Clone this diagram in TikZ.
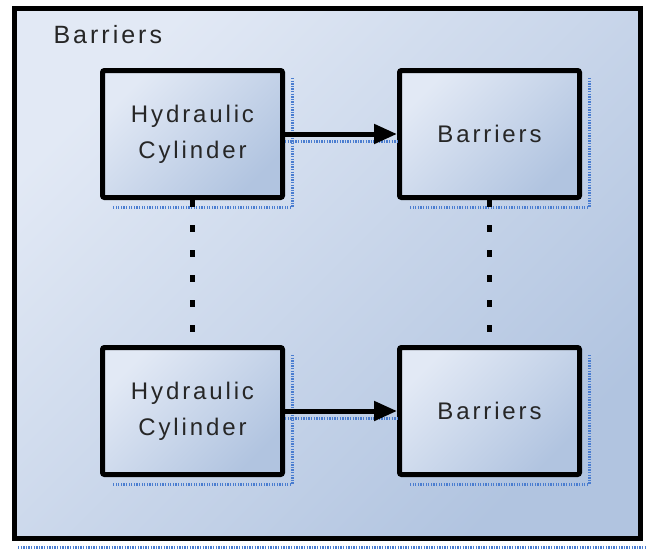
\documentclass[tikz,border=0pt]{standalone}
\usepackage{fontspec}
\setmainfont{Liberation Sans}[LetterSpace=12]
\usetikzlibrary{arrows.meta,positioning}
\definecolor{paleblue}{RGB}{226,233,245}
\definecolor{deepblue}{RGB}{177,196,224}
\definecolor{shadowblue}{RGB}{74,125,208}

\begin{document}
\begin{tikzpicture}[
    x=1pt, y=1pt,
    node distance=145pt and 112pt,
    frame/.style={draw, line width=5pt, minimum width=626pt, minimum height=530pt, left color=paleblue, right color=deepblue, shading angle=45},
    block/.style={draw, line width=5pt, rounded corners=2pt, minimum width=180pt, minimum height=127pt, align=center, font=\fontsize{24}{36}\selectfont, text=black!85, left color=paleblue, right color=deepblue, shading angle=45},
    line/.style={-{Triangle[length=23pt,width=19pt]}, line width=5pt},
    dots/.style={line width=5.5pt, dash pattern=on 7pt off 18pt},
    shade/.style={shadowblue, line width=3pt, dash pattern=on 1.3pt off 1.3pt}
]
\useasboundingbox (0,0) rectangle (647,-550);
\node[frame] (frame) at (327.5,-273.5) {};
\node[anchor=base west, font=\fontsize{25}{30}\selectfont, text=black!85] (title) at (50,-43) {Barriers};

\node[block] (cyl1) at (192.5,-134) {Hydraulic \\ Cylinder};
\node[block, right=of cyl1] (bar1) {Barriers};
\node[block, below=of cyl1] (cyl2) {Hydraulic \\ Cylinder};
\node[block, below=of bar1] (bar2) {Barriers};

% shadows
\draw[shade] ([xshift=7pt,yshift=-10pt]cyl1.north east) |- ([xshift=12pt,yshift=-7pt]cyl1.south west);
\draw[shade] ([xshift=7pt,yshift=-10pt]bar1.north east) |- ([xshift=12pt,yshift=-7pt]bar1.south west);
\draw[shade] ([xshift=7pt,yshift=-10pt]cyl2.north east) |- ([xshift=12pt,yshift=-7pt]cyl2.south west);
\draw[shade] ([xshift=7pt,yshift=-10pt]bar2.north east) |- ([xshift=12pt,yshift=-7pt]bar2.south west);
\draw[shade] ([yshift=-7pt]cyl1.east) -- ([yshift=-7pt]bar1.west);
\draw[shade] ([yshift=-7pt]cyl2.east) -- ([yshift=-7pt]bar2.west);
\draw[shade] ([xshift=6pt,yshift=-6pt]frame.south west) -- ([xshift=6pt,yshift=-6pt]frame.south east);

\draw[line] (cyl1) -- (bar1);
\draw[line] (cyl2) -- (bar2);
\draw[dots] (cyl1) -- (cyl2);
\draw[dots] (bar1) -- (bar2);
\end{tikzpicture}
\end{document}
